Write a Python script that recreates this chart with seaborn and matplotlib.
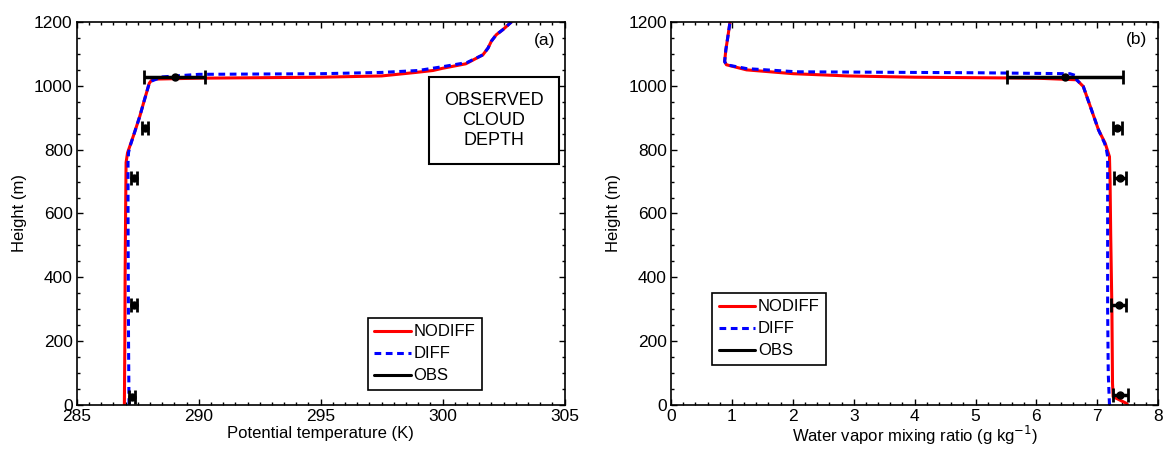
# potential temperature and water vapor profiles, NODIFF vs DIFF vs OBS

import numpy as np
import pandas as pd
import seaborn as sns
import matplotlib.pyplot as plt
from matplotlib.lines import Line2D
from matplotlib.ticker import MultipleLocator

# ---------------------------------------------------------------------------------- #
# data

# panel (a) potential temperature (K) vs height (m)
theta_nodiff_h = [0, 200, 400, 600, 760, 790, 810, 850, 904, 950, 1008, 1016, 1021, 1024, 1027, 1031,
                  1042, 1048, 1055, 1069, 1097, 1104, 1118, 1140, 1160, 1176, 1200]
theta_nodiff = [286.95, 286.97, 286.98, 287.0, 287.02, 287.08, 287.17, 287.35, 287.58, 287.75, 287.97,
                288.05, 288.13, 290.0, 295.0, 297.5, 298.9, 299.6, 300.0, 300.95, 301.65, 301.72,
                301.86, 302.0, 302.2, 302.47, 302.82]

theta_diff_h = [0, 200, 400, 600, 760, 791, 810, 850, 904, 950, 1008, 1016, 1028, 1036, 1038, 1042,
                1048, 1060, 1073, 1097, 1104, 1118, 1140, 1160, 1176, 1200]
theta_diff = [287.14, 287.12, 287.11, 287.1, 287.1, 287.12, 287.18, 287.35, 287.58, 287.75, 287.97,
              288.1, 288.5, 290.0, 295.0, 297.5, 299.0, 300.0, 301.0, 301.65, 301.72, 301.86, 302.0,
              302.2, 302.47, 302.82]

theta_obs_h = [26, 313, 711, 869, 1029]
theta_obs = [287.27, 287.34, 287.34, 287.81, 289.02]
theta_obs_err = [0.12, 0.12, 0.12, 0.12, 1.25]

# panel (b) water vapor mixing ratio (g/kg) vs height (m)
q_nodiff_h = [0, 5, 26, 68, 300, 538, 700, 778, 820, 862, 998, 1019, 1024, 1027, 1031, 1038, 1050,
              1066, 1076, 1113, 1150, 1202]
q_nodiff = [7.5, 7.48, 7.26, 7.25, 7.24, 7.22, 7.21, 7.2, 7.13, 7.02, 6.77, 6.66, 6.0, 4.0, 2.9, 2.01,
            1.24, 0.91, 0.88, 0.9, 0.93, 0.97]

q_diff_h = [0, 100, 300, 500, 700, 778, 800, 820, 862, 998, 1019, 1030, 1038, 1041, 1043, 1044,
            1054, 1066, 1076, 1113, 1150, 1202]
q_diff = [7.2, 7.18, 7.17, 7.17, 7.17, 7.17, 7.15, 7.12, 7.02, 6.77, 6.66, 6.68, 6.55, 5.0, 3.0, 2.06,
          1.24, 0.91, 0.88, 0.9, 0.93, 0.97]

q_obs_h = [31, 313, 712, 869, 1029]
q_obs = [7.38, 7.35, 7.37, 7.33, 6.47]
q_obs_err = [0.13, 0.12, 0.1, 0.07, 0.95]

legend_labels = ["NODIFF", "DIFF", "OBS"]

# ---------------------------------------------------------------------------------- #
# style

sns.set_style("ticks")
plt.rcParams['font.family'] = ['Liberation Sans', 'DejaVu Sans']
plt.rcParams['font.size'] = 12
plt.rcParams['axes.linewidth'] = 1.2
for k in ['text.color', 'axes.labelcolor', 'xtick.color', 'ytick.color', 'axes.edgecolor']:
    plt.rcParams[k] = 'black'

fig = plt.figure(figsize=(11.64, 4.49), dpi=100)
ax1 = fig.add_axes([0.066, 0.098, 0.419, 0.853])
ax2 = fig.add_axes([0.5765, 0.098, 0.4185, 0.853])

lw = 2.2
dash = (0, (2.2, 1.5))


def draw_panel(ax, x_nd, h_nd, x_d, h_d, x_obs, h_obs, err):
    df_nd = pd.DataFrame({"x": x_nd, "h": h_nd})
    df_d = pd.DataFrame({"x": x_d, "h": h_d})
    sns.lineplot(data=df_nd, x="x", y="h", sort=False, estimator=None, color="red", lw=lw, ax=ax)
    sns.lineplot(data=df_d, x="x", y="h", sort=False, estimator=None, color="blue", lw=lw,
                 linestyle=dash, ax=ax)
    ax.errorbar(x_obs, h_obs, xerr=err, fmt='o', color='black', ms=5, elinewidth=2.5,
                capsize=5, capthick=2, zorder=5)
    ax.set_ylim(0, 1200)
    ax.yaxis.set_major_locator(MultipleLocator(200))
    ax.yaxis.set_minor_locator(MultipleLocator(50))
    ax.tick_params(which='both', direction='in', top=True, right=True, width=1)
    ax.tick_params(which='major', length=4, pad=3, labelsize=12.5)
    ax.tick_params(which='minor', length=2.2)
    ax.set_ylabel("Height (m)", labelpad=5)


draw_panel(ax1, theta_nodiff, theta_nodiff_h, theta_diff, theta_diff_h,
           theta_obs, theta_obs_h, theta_obs_err)
ax1.set_xlim(285, 305)
ax1.xaxis.set_major_locator(MultipleLocator(5))
ax1.xaxis.set_minor_locator(MultipleLocator(0.5))
ax1.set_xlabel("Potential temperature (K)", labelpad=1)

draw_panel(ax2, q_nodiff, q_nodiff_h, q_diff, q_diff_h, q_obs, q_obs_h, q_obs_err)
ax2.set_xlim(0, 8)
ax2.xaxis.set_major_locator(MultipleLocator(1))
ax2.xaxis.set_minor_locator(MultipleLocator(0.2))
ax2.set_xlabel("Water vapor mixing ratio (g kg$^{-1}$)", labelpad=0)

# legends
handles = [Line2D([], [], color='red', lw=lw),
           Line2D([], [], color='blue', lw=lw, linestyle=dash),
           Line2D([], [], color='black', lw=lw)]
for ax, anchor in [(ax1, (0.596, 0.039)), (ax2, (0.084, 0.104))]:
    leg = ax.legend(handles, legend_labels, loc='lower left', bbox_to_anchor=anchor,
                    fancybox=False, framealpha=1, edgecolor='black', handlelength=2.2,
                    handletextpad=0.15, borderpad=0.4, labelspacing=0.42, borderaxespad=0,
                    fontsize=12)
    leg.get_frame().set_linewidth(1.2)

# annotations
ax1.text(0.855, 0.743, "OBSERVED\nCLOUD\nDEPTH", transform=ax1.transAxes, ha='center', va='center',
         fontsize=13, linespacing=1.2,
         bbox=dict(boxstyle='square,pad=0.85', fc='white', ec='black', lw=1.5))
ax1.text(0.959, 0.953, "(a)", transform=ax1.transAxes, ha='center', va='center', fontsize=12.5)
ax2.text(0.955, 0.955, "(b)", transform=ax2.transAxes, ha='center', va='center', fontsize=12.5)

plt.savefig("out.png", dpi=100)
